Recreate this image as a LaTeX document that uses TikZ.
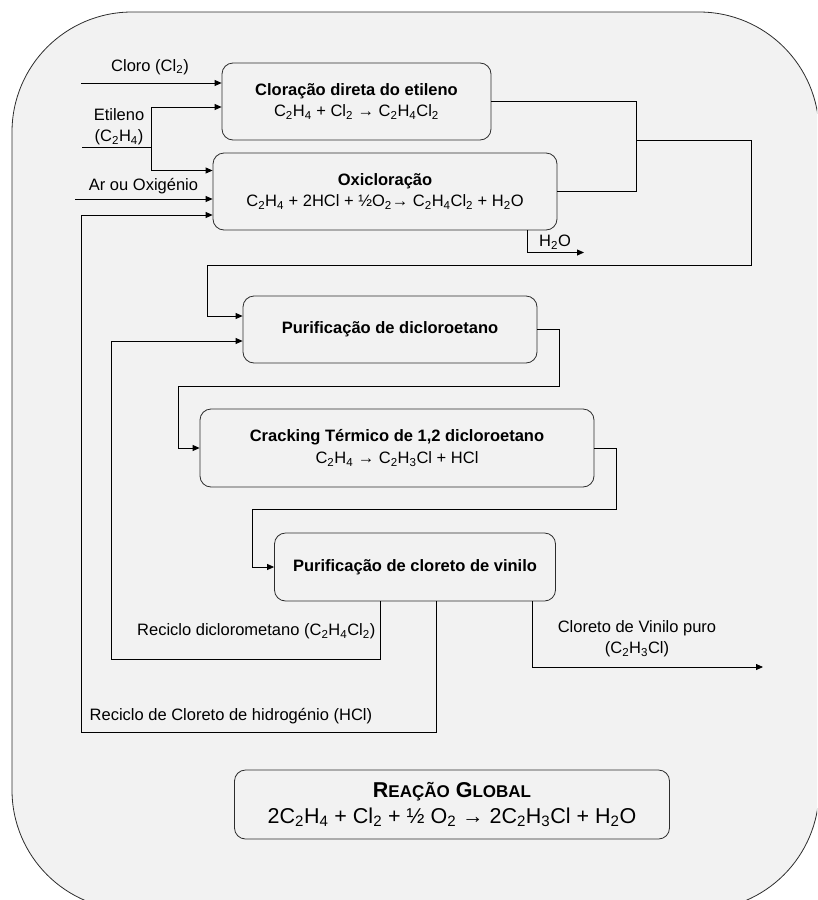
\documentclass[tikz,border=0pt]{standalone}
\usepackage{fontspec}
\setmainfont{Liberation Sans}
\usepackage{xcolor}
\usetikzlibrary{positioning,arrows.meta}
\definecolor{panelgray}{RGB}{242,242,242}
\definecolor{edgegray}{RGB}{45,45,45}
\newcommand{\chsub}[1]{\textsubscript{#1}}
\newcommand{\scfake}[1]{{\fontsize{17}{26}\selectfont #1}}

\begin{document}
\begin{tikzpicture}[x=1pt, y=-1pt,
		proc/.style={draw=edgegray, rounded corners=11pt, fill=panelgray, align=center,
								inner sep=0pt, line width=0.8pt, font=\fontsize{16.5}{21.5}\selectfont},
		line/.style={line width=0.8pt},
		arrow/.style={line, -{Triangle[length=7pt,width=6pt]}},
		lbl/.style={inner sep=0pt, align=center, font=\fontsize{16.5}{21.5}\selectfont},
	]
		\clip (0,0) rectangle (817,900);
		\draw[edgegray, fill=panelgray, line width=0.8pt, rounded corners=120pt] (12,12) rectangle (819,910);

		% reactores
		\node[proc, minimum width=269pt, minimum height=77pt] (clor) at (356.5,101.5)
			{\textbf{Cloração direta do etileno}\\C\chsub{2}H\chsub{4} + Cl\chsub{2} → C\chsub{2}H\chsub{4}Cl\chsub{2}};
		\node[proc, minimum width=344pt, minimum height=77pt] (oxi) at (385,191.5)
			{\textbf{Oxicloração}\\C\chsub{2}H\chsub{4} + 2HCl + ½O\chsub{2}→ C\chsub{2}H\chsub{4}Cl\chsub{2} + H\chsub{2}O};

		% purificação e cracking
		\node[proc, minimum width=294pt, minimum height=67pt] (purdce) at (390,329.5)
			{\textbf{Purificação de dicloroetano}};
		\node[proc, minimum width=394pt, minimum height=78pt] (crack) at (397,448)
			{\textbf{Cracking Térmico de 1,2 dicloroetano}\\C\chsub{2}H\chsub{4} → C\chsub{2}H\chsub{3}Cl + HCl};
		\node[proc, minimum width=281pt, minimum height=68pt] (purvc) at (415,567)
			{\textbf{Purificação de cloreto de vinilo}};

		% reação global
		\node[proc, minimum width=435pt, minimum height=69pt, font=\fontsize{21.5}{26}\selectfont] (global) at (452,804.5)
			{\textbf{R\scfake{EAÇÃO} G\scfake{LOBAL}}\\2C\chsub{2}H\chsub{4} + Cl\chsub{2} + ½ O\chsub{2} → 2C\chsub{2}H\chsub{3}Cl + H\chsub{2}O};

		% entradas
		\coordinate (inCloro) at (81,83);
		\coordinate (inEtil) at (82,147.5);
		\coordinate (jEtil) at (151.5,147.5);
		\coordinate (inAr) at (75,199);
		\node[lbl] (lblCloro) at (150,67) {Cloro (Cl\chsub{2})};
		\node[lbl] (lblEtil) at (119,126.5) {Etileno\\(C\chsub{2}H\chsub{4})};
		\node[lbl] (lblAr) at (143.5,186.5) {Ar ou Oxigénio};

		\draw[arrow] (inCloro) -- ([yshift=18.5pt]clor.west);
		\draw[line] (inEtil) -- (jEtil);
		\draw[arrow] (jEtil) |- ([yshift=-5.5pt]clor.west);
		\draw[arrow] (jEtil) |- ([yshift=21pt]oxi.west);
		\draw[arrow] (inAr) -- ([yshift=-7.5pt]oxi.west);

		% saída de água
		\coordinate (outH2O) at (584,252.5);
		\node[lbl] (lblH2O) at (555,242) {H\chsub{2}O};
		\draw[arrow] ([xshift=142.4pt]oxi.south) |- (outH2O);

		% mistura -> purificação
		\coordinate (jMix) at (636,140);
		\coordinate (feedRight) at (751.5,265.5);
		\coordinate (feedLeft) at (207.5,265.5);
		\draw[line] (clor.east) -| (jMix);
		\draw[line] (oxi.east) -| (jMix);
		\draw[arrow] (jMix) -| (feedRight) -- (feedLeft) |- ([yshift=13.5pt]purdce.west);

		% purificação -> cracking -> purificação VC
		\coordinate (bendA) at (559.5,386);
		\coordinate (bendB) at (178,386);
		\coordinate (bendC) at (616,509);
		\coordinate (bendD) at (252.5,509);
		\draw[arrow] (purdce.east) -| (bendA) -- (bendB) |- (crack.west);
		\draw[arrow] (crack.east) -| (bendC) -- (bendD) |- (purvc.west);

		% reciclos
		\coordinate (dcmCorner) at (111.5,659);
		\coordinate (hclCorner) at (81,732);
		\node[lbl, anchor=east] (lblDcm) at (375.5,631.5) {Reciclo diclorometano (C\chsub{2}H\chsub{4}Cl\chsub{2})};
		\node[lbl, anchor=west] (lblHcl) at (89.5,716.5) {Reciclo de Cloreto de hidrogénio (HCl)};
		\draw[arrow] ([xshift=-34.6pt]purvc.south) |- (dcmCorner) |- ([yshift=-11.5pt]purdce.west);
		\draw[arrow] ([xshift=21pt]purvc.south) |- (hclCorner) |- ([yshift=-23.5pt]oxi.west);

		% produto
		\coordinate (outVC) at (763,667);
		\node[lbl] (lblVC) at (637,638.5) {Cloreto de Vinilo puro\\(C\chsub{2}H\chsub{3}Cl)};
		\draw[arrow] ([xshift=117.6pt]purvc.south) |- (outVC);
	\end{tikzpicture}
\end{document}
